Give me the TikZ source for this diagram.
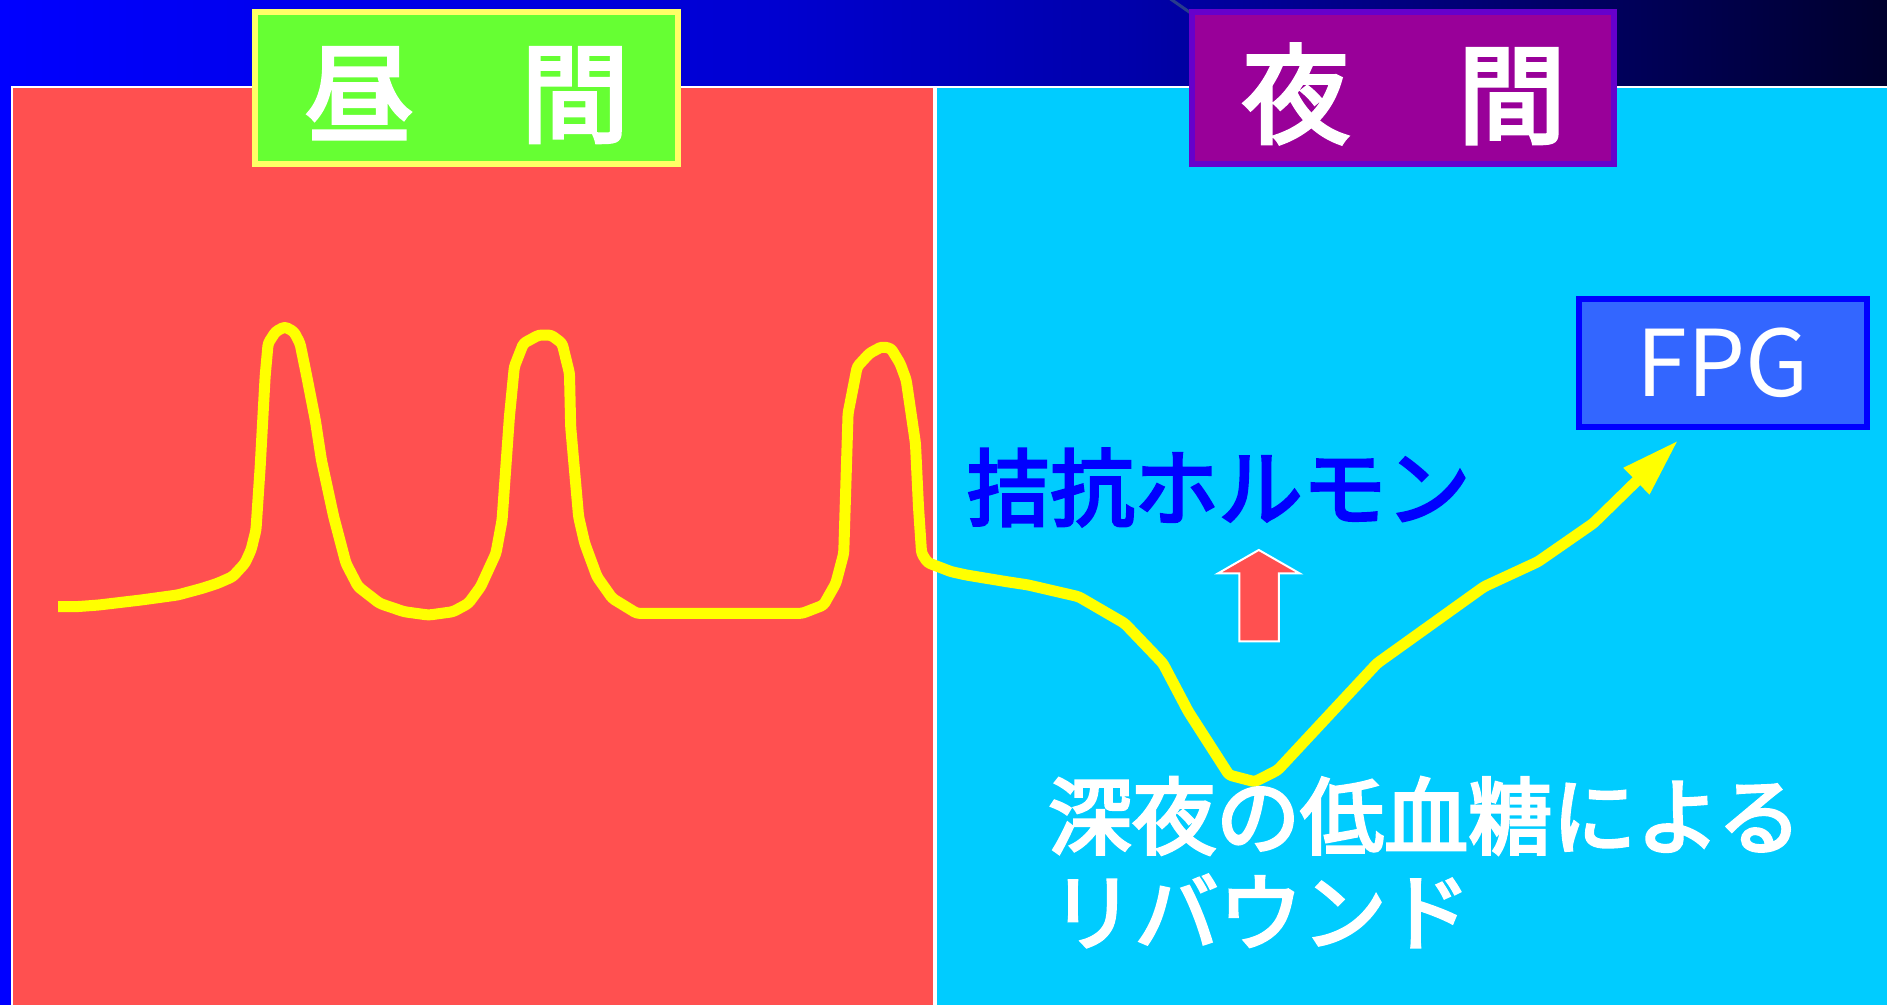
\documentclass[tikz,border=0pt]{standalone}
\usepackage{fontspec}
\newfontfamily\jp{Noto Sans CJK JP}
\newfontfamily\jpm{Noto Sans CJK JP}[FakeBold=3.5]
\usetikzlibrary{arrows.meta}
\definecolor{panelred}{HTML}{FF5050}
\definecolor{panelcyan}{HTML}{00CCFF}
\definecolor{daygreen}{HTML}{66FF33}
\definecolor{dayborder}{HTML}{FFFF66}
\definecolor{nightpurple}{HTML}{990099}
\definecolor{nightborder}{HTML}{6600CC}
\definecolor{fpgfill}{HTML}{3366FF}
\definecolor{fpgborder}{HTML}{0000FF}
\definecolor{curveyellow}{HTML}{FFFF00}
\definecolor{hormblue}{HTML}{0000FF}
\definecolor{slashcol}{RGB}{40,60,140}
\definecolor{ga}{RGB}{0,0,255}
\definecolor{gb}{RGB}{0,0,210}
\definecolor{gc}{RGB}{0,0,170}
\definecolor{gd}{RGB}{0,0,110}
\definecolor{ge}{RGB}{0,0,45}
\pgfdeclarehorizontalshading{topgrad}{100bp}{color(0bp)=(ga); color(25bp)=(ga); color(45bp)=(gb); color(55bp)=(gc); color(65bp)=(gd); color(75bp)=(ge); color(100bp)=(ge)}
\tikzset{
  panel/.style={draw=white, line width=2pt},
  titlebox/.style={rectangle, line width=6pt, inner sep=0pt},
  titletext/.style={text=white, font=\jpm\fontsize{108}{120}\selectfont, inner sep=0pt},
  jptext/.style={font=\jpm\fontsize{84}{96}\selectfont, inner sep=0pt},
  curve/.style={draw=curveyellow, line width=11pt, line join=round, rounded corners=3pt},
  uparrow/.style={draw=white, line width=2pt, fill=panelred}
}
\begin{document}
\begin{tikzpicture}[x=1.2034pt,y=-1.2034pt]
\useasboundingbox (0,0) rectangle (1568,835);
\fill[shading=topgrad] (0,0) rectangle (1568,835);
\draw[slashcol, line width=3pt] (971,-2) -- (994,14);
% panels
\draw[panel, fill=panelred] (10,72) rectangle (776.5,840);
\draw[panel, fill=panelcyan] (777.5,72) rectangle (1572,840);
% title boxes
\node[titlebox, draw=dayborder, fill=daygreen, minimum width=423.6pt, minimum height=152.2pt] (day) at (387.5,73.25) {};
\node[titletext] (daytext) at (388,79) {昼　間};
\node[titlebox, draw=nightborder, fill=nightpurple, minimum width=422.4pt, minimum height=152.2pt] (night) at (1166,73.25) {};
\node[titletext] (nighttext) at (1166.5,78) {夜　間};
% FPG box
\node[titlebox, draw=fpgborder, fill=fpgfill, minimum width=287.6pt, minimum height=127.9pt,
      text=white, font=\jp\fontsize{92}{100}\selectfont] (fpg) at (1431.5,301.6) {FPG};
% hormone text and arrow
\node[jptext, text=hormblue] (horm) at (1012.5,405) {拮抗ホルモン};
\draw[uparrow] (1046,457) -- (1080,476.5) -- (1062.6,476.5) -- (1062.6,533) -- (1029.8,533) -- (1029.8,476.5) -- (1012,476.5) -- cycle;
% glucose curve
\coordinate (cstart) at (48.3,504.1);
\coordinate (ctip) at (1394.8,365.6);
\draw[curve, -{Triangle[length=59pt,width=34pt]}] (cstart) -- (63.6,504.1) -- (81.4,502.8) -- (117,498.6) -- (147.6,494.4) -- (167.9,488.9) -- (180.6,484.8) -- (193.3,479.2) -- (203.5,468.1) -- (208.6,457) -- (212.7,440.4) -- (216.2,387.8) -- (220.3,313) -- (222.8,285.3) -- (229,275.6) -- (236.6,271.5) -- (244.2,275.6) -- (249.3,285.3) -- (254.4,310.2) -- (262,349) -- (267.1,382.3) -- (277.3,429.4) -- (287.5,468.1) -- (297.6,487.5) -- (315.5,501.4) -- (335.8,508.3) -- (356.2,511.1) -- (376.5,508.3) -- (389.2,501.4) -- (399.4,487.5) -- (412.1,459.8) -- (417.2,432.1) -- (423.3,346.3) -- (427.4,304.7) -- (435,285.3) -- (447.7,278.4) -- (457.9,278.4) -- (467.1,285.3) -- (473.2,310.2) -- (474.2,354.6) -- (480.8,429.4) -- (485.9,451.5) -- (496.1,479.2) -- (508.8,497.2) -- (529.2,509.7) -- (666.5,509.7) -- (684.3,502.8) -- (694.5,484.8) -- (701.1,459.8) -- (704.7,343.5) -- (712.3,304.7) -- (722.5,293.6) -- (732.7,288.1) -- (740.3,289.5) -- (747.9,301.9) -- (753,315.8) -- (760.7,368.4) -- (763.2,421) -- (765.8,459.8) -- (770.8,467.5) -- (790.3,475) -- (803,477.8) -- (836.8,483.4) -- (854,486) -- (896.3,495.8) -- (934.5,518) -- (966.3,551.2) -- (987.5,591.4) -- (1021.3,644) -- (1042.6,649.6) -- (1061.7,639.9) -- (1144.3,551.2) -- (1233.2,487.5) -- (1277.9,466.8) -- (1324,434.8) -- (ctip);
% rebound text
\node[jptext, text=white] (reb1) at (1184,678) {深夜の低血糖による};
\node[jptext, text=white] (reb2) at (1047.5,757) {リバウンド};
\end{tikzpicture}
\end{document}
